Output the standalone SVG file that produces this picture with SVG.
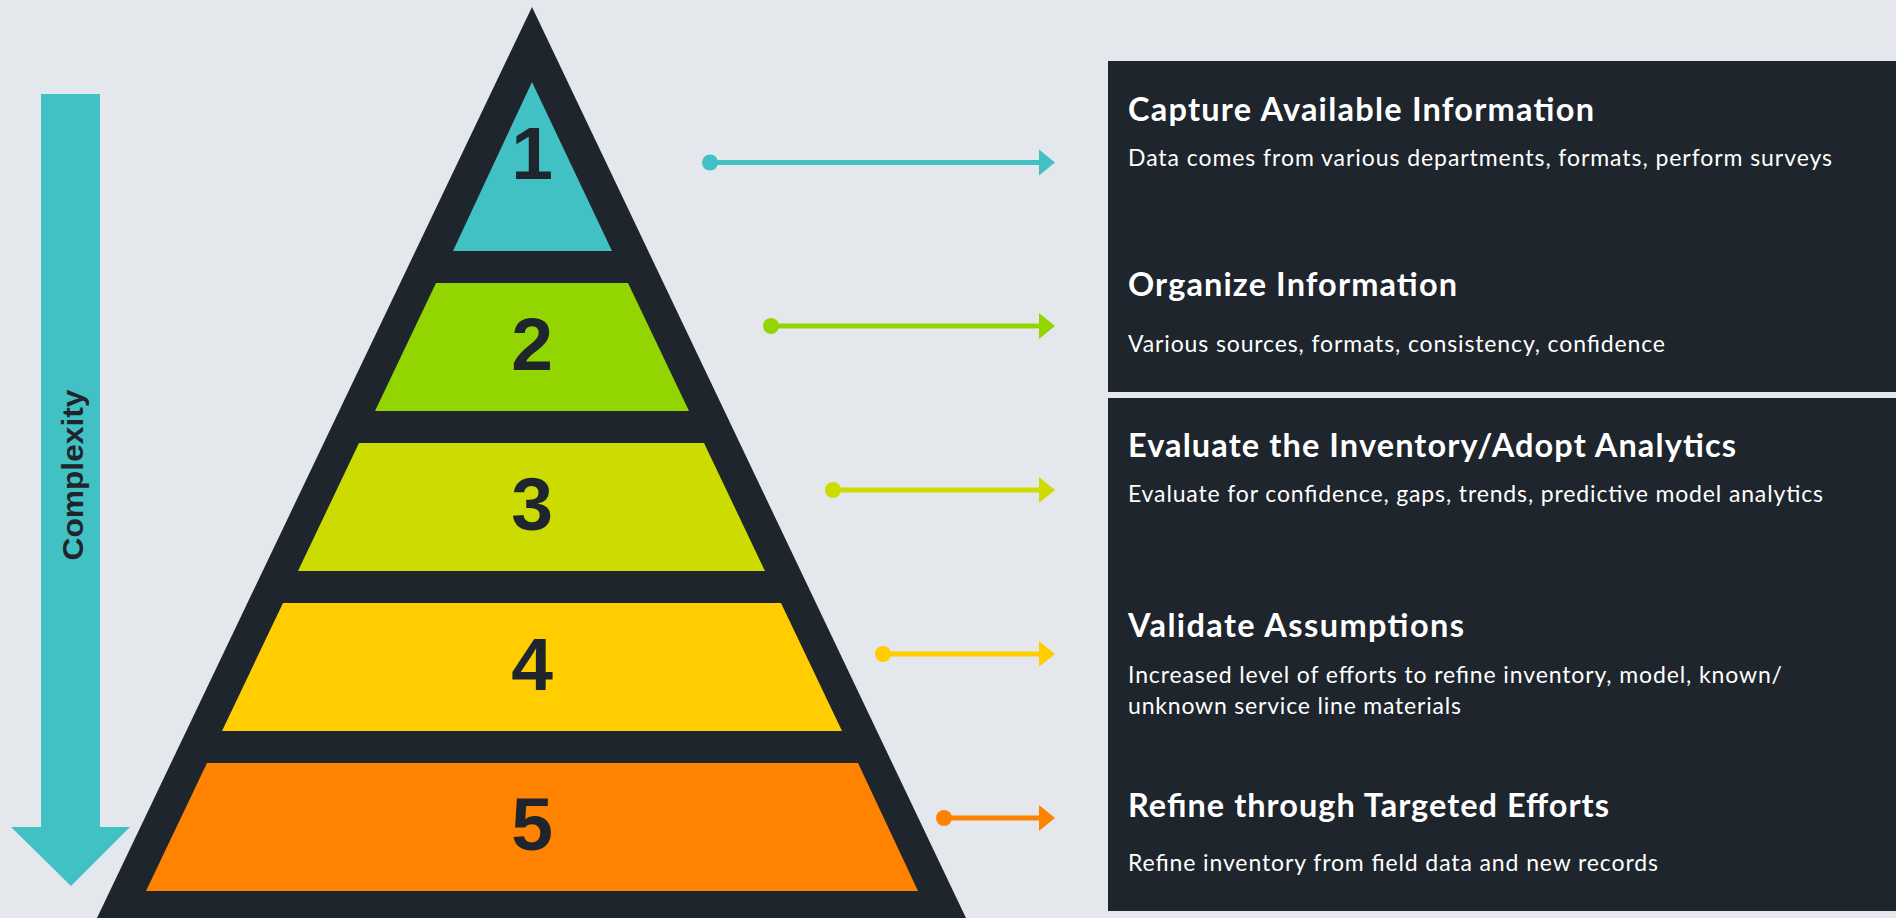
<svg xmlns="http://www.w3.org/2000/svg" width="1896" height="918" viewBox="0 0 1896 918">
<style>
.num{font-family:"Liberation Sans",Arial,sans-serif;font-weight:bold;font-size:75px;fill:#1e252c;text-anchor:middle}
.title{font-family:Lato,"Open Sans",sans-serif;font-weight:bold;font-size:32.5px;fill:#ffffff}
.sub{font-family:Lato,"Open Sans",sans-serif;font-size:23px;fill:#ffffff}
.box{fill:#1e252c}
.dark{fill:#1e252c}
.ln{stroke-width:5;fill:none}
</style>
<rect x="0" y="0" width="1896" height="918" fill="#e4e8ed"/>

<g id="complexity-arrow">
  <polygon points="41,94 100,94 100,827 130,827 71,886 11,827 41,827" fill="#42c1c4"/>
  <text transform="translate(83,475) rotate(-90)" text-anchor="middle" font-family="'Liberation Sans',Arial,sans-serif" font-weight="bold" font-size="29" fill="#1e252c" textLength="171" lengthAdjust="spacingAndGlyphs">Complexity</text>
</g>

<g id="pyramid">
  <polygon class="dark" points="532,7 966,918 97,918"/>
  <g id="layer1">
    <polygon points="532,82 612,251 453,251" fill="#42c1c4"/>
    <text class="num" x="532" y="179">1</text>
  </g>
  <g id="layer2">
    <polygon points="436,283 628,283 689,411 375,411" fill="#93d500"/>
    <text class="num" x="532" y="370">2</text>
  </g>
  <g id="layer3">
    <polygon points="359,443 704,443 765,571 298,571" fill="#cddc00"/>
    <text class="num" x="532" y="530">3</text>
  </g>
  <g id="layer4">
    <polygon points="283,603 781,603 842,731 222,731" fill="#ffcd00"/>
    <text class="num" x="532" y="690">4</text>
  </g>
  <g id="layer5">
    <polygon points="207,763 858,763 918,891 146,891" fill="#ff8200"/>
    <text class="num" x="532" y="850">5</text>
  </g>
</g>

<g id="connectors">
  <g fill="#42c1c4" stroke="#42c1c4">
    <line class="ln" x1="710" y1="162.5" x2="1041" y2="162.5"/>
    <circle cx="710" cy="162.5" r="8" stroke="none"/>
    <polygon points="1039,149.5 1055,162.5 1039,175.5" stroke="none"/>
  </g>
  <g fill="#93d500" stroke="#93d500">
    <line class="ln" x1="771" y1="326" x2="1041" y2="326"/>
    <circle cx="771" cy="326" r="8" stroke="none"/>
    <polygon points="1039,313 1055,326 1039,339" stroke="none"/>
  </g>
  <g fill="#cddc00" stroke="#cddc00">
    <line class="ln" x1="833" y1="490" x2="1041" y2="490"/>
    <circle cx="833" cy="490" r="8" stroke="none"/>
    <polygon points="1039,477 1055,490 1039,503" stroke="none"/>
  </g>
  <g fill="#ffcd00" stroke="#ffcd00">
    <line class="ln" x1="883" y1="654" x2="1041" y2="654"/>
    <circle cx="883" cy="654" r="8" stroke="none"/>
    <polygon points="1039,641 1055,654 1039,667" stroke="none"/>
  </g>
  <g fill="#ff8200" stroke="#ff8200">
    <line class="ln" x1="944" y1="818" x2="1041" y2="818"/>
    <circle cx="944" cy="818" r="8" stroke="none"/>
    <polygon points="1039,805 1055,818 1039,831" stroke="none"/>
  </g>
</g>

<g id="box-top">
  <rect class="box" x="1108" y="61" width="788" height="331"/>
  <g id="step1">
    <text class="title" x="1128" y="121" textLength="466">Capture Available Information</text>
    <text class="sub" x="1128" y="166" textLength="704">Data comes from various departments, formats, perform surveys</text>
  </g>
  <g id="step2">
    <text class="title" x="1128" y="296" textLength="329">Organize Information</text>
    <text class="sub" x="1128" y="352" textLength="537">Various sources, formats, consistency, confidence</text>
  </g>
</g>

<g id="box-bottom">
  <rect class="box" x="1108" y="398" width="788" height="513"/>
  <g id="step3">
    <text class="title" x="1128" y="457" textLength="608">Evaluate the Inventory/Adopt Analytics</text>
    <text class="sub" x="1128" y="502" textLength="695">Evaluate for confidence, gaps, trends, predictive model analytics</text>
  </g>
  <g id="step4">
    <text class="title" x="1128" y="637" textLength="336">Validate Assumptions</text>
    <text class="sub" x="1128" y="683" textLength="654">Increased level of efforts to refine inventory, model, known/</text>
    <text class="sub" x="1128" y="714" textLength="333">unknown service line materials</text>
  </g>
  <g id="step5">
    <text class="title" x="1128" y="817" textLength="481">Refine through Targeted Efforts</text>
    <text class="sub" x="1128" y="871" textLength="530">Refine inventory from field data and new records</text>
  </g>
</g>
</svg>
